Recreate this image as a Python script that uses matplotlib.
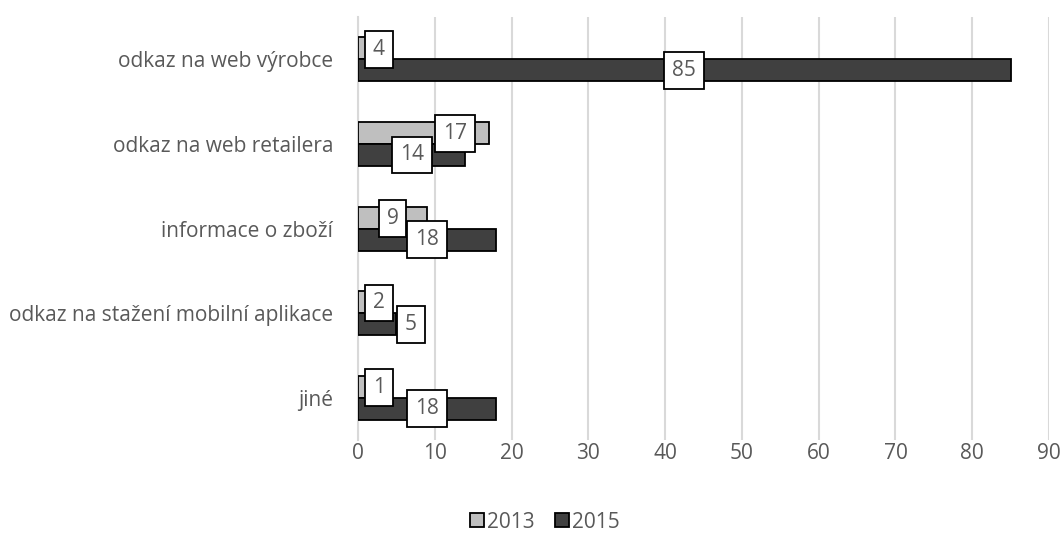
import numpy as np
import matplotlib.pyplot as plt
from matplotlib.patches import Patch

plt.rcParams['font.family'] = ['Open Sans', 'DejaVu Sans']

categories = ["odkaz na web výrobce", "odkaz na web retailera", "informace o zboží",
              "odkaz na stažení mobilní aplikace", "jiné"]
values_2013 = [4, 17, 9, 2, 1]
values_2015 = [85, 14, 18, 5, 18]
series_names = ["2013", "2015"]

TEXT = "#595959"
GRID = "#D9D9D9"
LIGHT = "#BFBFBF"
DARK = "#404040"
FS = 15


def labelPositions(v13, v15):
    # mimic Excel: centre of bar, but keep the box clear of the axis / other box
    pos13, pos15 = [], []
    for a, b in zip(v13, v15):
        x13 = max(a / 2, 2.7)
        x15 = max(b / 2, 6.9)
        if abs(x13 - x15) < 4:
            x13 = x15 + 5.6
        pos13.append(x13)
        pos15.append(x15)
    return pos13, pos15


fig = plt.figure(figsize=(10.62, 5.34), dpi=100)
ax = fig.add_axes([0.3371, 0.176, 0.6507, 0.792])

y = np.arange(len(categories))
h = 0.26
ax.barh(y - h / 2, values_2013, height=h, color=LIGHT, edgecolor="black", linewidth=1.3, zorder=3)
ax.barh(y + h / 2, values_2015, height=h, color=DARK, edgecolor="black", linewidth=1.3, zorder=3)

pos13, pos15 = labelPositions(values_2013, values_2015)
box = dict(boxstyle="square,pad=0.38", facecolor="white", edgecolor="black", linewidth=1.3)
for i in range(len(categories)):
    ax.text(pos13[i], y[i] - h / 2 + 0.01, str(values_2013[i]), ha="center", va="center",
            fontsize=FS, color=TEXT, bbox=box, zorder=5)
    ax.text(pos15[i], y[i] + h / 2, str(values_2015[i]), ha="center", va="center",
            fontsize=FS, color=TEXT, bbox=box, zorder=4)

ax.set_xlim(0, 90)
ax.set_xticks(np.arange(0, 91, 10))
ax.set_ylim(len(categories) - 0.5, -0.5)
ax.set_yticks(y)
ax.set_yticklabels(categories)
ax.tick_params(axis="both", length=0, labelsize=FS, labelcolor=TEXT)
ax.tick_params(axis="x", pad=2)
ax.tick_params(axis="y", pad=18)
ax.xaxis.grid(True, color=GRID, linewidth=1.5, zorder=0)
for s in ["top", "right", "bottom"]:
    ax.spines[s].set_visible(False)
ax.spines["left"].set_color(GRID)
ax.spines["left"].set_linewidth(1.5)

handles = [Patch(facecolor=LIGHT, edgecolor="black", linewidth=1.3),
           Patch(facecolor=DARK, edgecolor="black", linewidth=1.3)]
fig.legend(handles, series_names, loc="center", bbox_to_anchor=(0.513, 0.022), ncol=2,
           frameon=False, fontsize=FS, labelcolor=TEXT, handlelength=0.65, handleheight=0.65,
           handletextpad=0.15, columnspacing=1.0)

fig.savefig("out.png", dpi=100)
